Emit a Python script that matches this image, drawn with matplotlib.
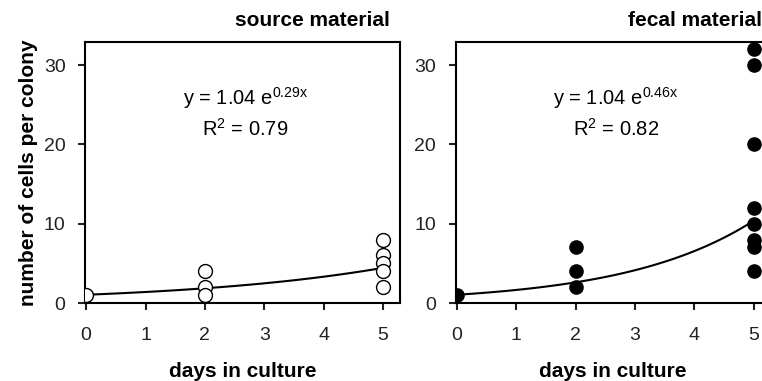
import numpy as np
import matplotlib
matplotlib.use('Agg')
import matplotlib.pyplot as plt

plt.rcParams['font.family'] = ['Liberation Sans', 'DejaVu Sans']
plt.rcParams['mathtext.fontset'] = 'custom'
plt.rcParams['mathtext.rm'] = 'Liberation Sans'
plt.rcParams['mathtext.it'] = 'Liberation Sans'

# data
src_days = [0, 2, 2, 2, 5, 5, 5, 5, 5]
src_cells = [1, 4, 2, 1, 8, 6, 5, 4, 2]
fec_days = [0, 2, 2, 2, 5, 5, 5, 5, 5, 5, 5, 5]
fec_cells = [1, 7, 4, 2, 32, 30, 20, 12, 10, 8, 7, 4]

# fitted curves y = a * exp(b x)
fit_a = [1.04, 1.04]
fit_b = [0.29, 0.46]
r2 = [0.79, 0.82]
titles = ['source material', 'fecal material']

fig = plt.figure(figsize=(7.62, 3.81), dpi=100)
ax1 = fig.add_axes([0.1115, 0.2047, 0.413, 0.685])
ax2 = fig.add_axes([0.598, 0.2047, 0.413, 0.685])

xs = np.linspace(0, 5, 100)
for i, ax in enumerate([ax1, ax2]):
    if i == 0:
        ax.plot(src_days, src_cells, 'o', ms=10, mfc='white', mec='black', mew=1, zorder=3)
    else:
        ax.plot(fec_days, fec_cells, 'o', ms=9.5, mfc='black', mec='black', zorder=3)
    ax.plot(xs, fit_a[i] * np.exp(fit_b[i] * xs), color='black', lw=1.5, zorder=2)

    ax.set_xlim(-0.02, 5.28)
    ax.set_ylim(0, 32.9)
    ax.set_xticks([0, 1, 2, 3, 4, 5])
    ax.set_yticks([0, 10, 20, 30])
    ax.tick_params(direction='out', length=5, width=1.5, labelsize=14, colors='#222222', pad=9)
    ax.tick_params(axis='x', pad=12)
    for s in ax.spines.values():
        s.set_linewidth(1.5)
    ax.set_xlabel('days in culture', fontsize=15, fontweight='bold', labelpad=13)
    ax.text(2.68, 25.8, 'y = %.2f e$^{%.2fx}$' % (fit_a[i], fit_b[i]), ha='center', va='center', fontsize=14.5)
    ax.text(2.68, 22, 'R$^{2}$ = %.2f' % r2[i], ha='center', va='center', fontsize=14.5)

ax1.set_ylabel('number of cells per colony', fontsize=15, fontweight='bold', labelpad=4)
fig.text(390 / 762, 1 - 20 / 381, titles[0], ha='right', va='center', fontsize=15, fontweight='bold')
fig.text(762 / 762, 1 - 20 / 381, titles[1], ha='right', va='center', fontsize=15, fontweight='bold')

fig.savefig('out.png', dpi=100)
